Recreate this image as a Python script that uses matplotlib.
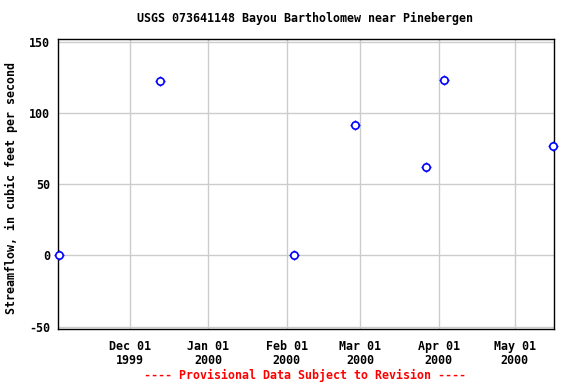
"""USGS streamflow scatter: Bayou Bartholomew near Pinebergen."""

import datetime as dt

import matplotlib
matplotlib.use("Agg")
import matplotlib.pyplot as plt

dates = ["1999-11-03", "1999-12-13", "2000-02-04", "2000-02-28",
         "2000-03-27", "2000-04-03", "2000-05-16"]
flow = [0, 122.7, 0, 91.6, 62.0, 123.2, 76.8]
tick_dates = ["1999-12-01", "2000-01-01", "2000-02-01", "2000-03-01",
              "2000-04-01", "2000-05-01"]
tick_labels = ["Dec 01\n1999", "Jan 01\n2000", "Feb 01\n2000",
               "Mar 01\n2000", "Apr 01\n2000", "May 01\n2000"]
y_ticks = [-50, 0, 50, 100, 150]

to_date = lambda s: dt.datetime.strptime(s, "%Y-%m-%d")
x = [to_date(d) for d in dates]
xt = [to_date(d) for d in tick_dates]

plt.rcParams['font.family'] = 'DejaVu Sans Mono'
plt.rcParams['font.weight'] = 'bold'
plt.rcParams['font.size'] = 8.4

fig = plt.figure(figsize=(5.76, 3.84), dpi=100)
ax = fig.add_axes([0.1012, 0.1432, 0.8611, 0.7545])

ax.grid(True, color="#cccccc", linewidth=1)
ax.set_axisbelow(True)

# circle marker with little stubs like the USGS plots
ax.plot(x, flow, linestyle="none", marker="+", markersize=7.2,
        markeredgecolor="blue", markeredgewidth=1, clip_on=False, zorder=3)
ax.plot(x, flow, linestyle="none", marker="o", markersize=5.3,
        markerfacecolor="white", markeredgecolor="blue",
        markeredgewidth=1.2, clip_on=False, zorder=4)

ax.set_xlim(to_date("1999-11-01") + dt.timedelta(days=1.8),
            to_date("2000-05-16") + dt.timedelta(days=0.7))
ax.set_ylim(-51.7, 152)
ax.set_xticks(xt)
ax.set_xticklabels(tick_labels, fontweight="bold", linespacing=1.1)
ax.set_yticks(y_ticks)
ax.set_yticklabels([str(v) for v in y_ticks], fontweight="bold")
ax.tick_params(length=0, pad=6)
ax.tick_params(axis="x", pad=8)
for s in ax.spines.values():
    s.set_linewidth(1)
    s.set_color("black")

ax.set_ylabel("Streamflow, in cubic feet per second", fontweight="bold")
ax.yaxis.set_label_coords(-0.081, 0.487)
fig.text(0.53, 0.951, "USGS 073641148 Bayou Bartholomew near Pinebergen",
         ha="center", va="center", fontweight="bold")
fig.text(0.53, 0.023, "---- Provisional Data Subject to Revision ----",
         ha="center", va="center", color="red", fontweight="bold")

fig.savefig("out.png", dpi=100)
